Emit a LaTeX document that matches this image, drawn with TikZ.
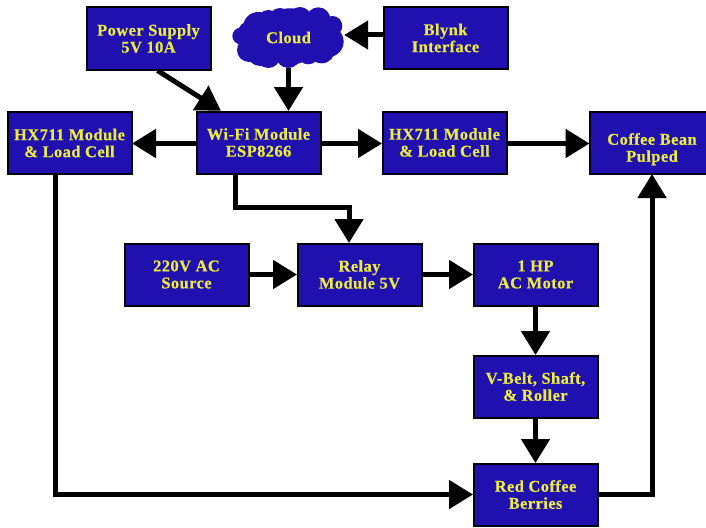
\documentclass[tikz,border=0pt]{standalone}
\usepackage{fontspec}
\setmainfont{Liberation Serif}
\usetikzlibrary{arrows.meta,calc}
\definecolor{boxblue}{RGB}{32,16,176}
\definecolor{boxyellow}{RGB}{236,236,64}
\newfontfamily\lblfont[LetterSpace=2.5,FakeBold=0.4]{Liberation Serif Bold}
\tikzset{
  lbl/.style={text=boxyellow,inner sep=0pt,align=center,font=\lblfont\fontsize{16.5}{17}\selectfont},
  blockbox/.style={lbl,draw=black,line width=2pt,fill=boxblue,minimum width=124pt,minimum height=62pt},
  cloudbox/.style={lbl,minimum width=112pt,minimum height=61pt},
  puff/.style={fill=boxblue,draw=none},
  link/.style={draw=black,line width=5pt,-{Triangle[length=24pt,width=28pt]},shorten >=-0.5pt}
}
\begin{document}
\begin{tikzpicture}[x=1pt,y=-1pt]
\useasboundingbox (0,0) rectangle (706,527);
\begin{scope}[shift={(225,0)},x=0.3333pt,y=-0.3333pt]
\foreach \cx/\cy/\cr in {47/108/25,72/150/36,130/168/36,190/168/36,250/160/33,310/125/46,322/78/30,280/58/36,225/55/34,165/58/34,130/62/32,100/82/46,70/95/30,195/110/85,250/110/75,130/110/65,290/150/40,105/160/38}
  \fill[puff] (\cx,\cy) circle[radius=\cr*0.3333pt];
\end{scope}
\node[cloudbox] (cloud) at (288.5,37.5) {Cloud};
\node[blockbox] (power) at (148.5,38.5) {Power Supply\\5V 10A};
\node[blockbox] (blynk) at (445.5,38) {Blynk\\Interface};
\node[blockbox] (hxl) at (69.5,143) {HX711 Module\\\& Load Cell};
\node[blockbox] (wifi) at (258.5,142.5) {Wi-Fi Module\\ESP8266};
\node[blockbox] (hxr) at (444.5,142.5) {HX711 Module\\\& Load Cell};
\node[blockbox] (bean) at (652,142.5) {\mbox{}\\[8pt]Coffee Bean\\Pulped};
\node[blockbox] (ac) at (186.5,274.5) {220V AC\\Source};
\node[blockbox] (relay) at (359.5,274.5) {Relay\\Module 5V};
\node[blockbox] (motor) at (535.5,274.5) {1 HP\\AC Motor};
\node[blockbox] (belt) at (535.5,386.5) {V-Belt, Shaft,\\\& Roller};
\node[blockbox] (red) at (535.5,494.5) {Red Coffee\\Berries};
\coordinate (blynkout) at ($(blynk.west)+(0,-3)$);
\coordinate (wifil) at ($(wifi.west)+(0,1)$);
\coordinate (wifir) at ($(wifi.east)+(0,1)$);
\coordinate (hxrout) at ($(hxr.east)+(0,1)$);
\draw[link] ($(power.south)+(9,0)$) -- ($(wifi.north west)+(25,0)$);
\draw[link] (cloud.south) -- (cloud.south |- wifi.north);
\draw[link] (blynkout) -- (blynkout -| cloud.east);
\draw[link] (wifil) -- (wifil -| hxl.east);
\draw[link] (wifir) -- (wifir -| hxr.west);
\draw[link] (hxrout) -- (hxrout -| bean.west);
\draw[link] ($(wifi.south)+(-23.5,0)$) |- ($(relay.north)+(-10.5,-35)$) -- ($(relay.north)+(-10.5,0)$);
\draw[link] (ac.east) -- (relay.west);
\draw[link] (relay.east) -- (motor.west);
\draw[link] (motor.south) -- (belt.north);
\draw[link] (belt.south) -- (red.north);
\draw[link] ($(hxl.south)+(-14.5,0)$) |- (red.west);
\draw[link] (red.east) -| (bean.south);
\end{tikzpicture}
\end{document}
